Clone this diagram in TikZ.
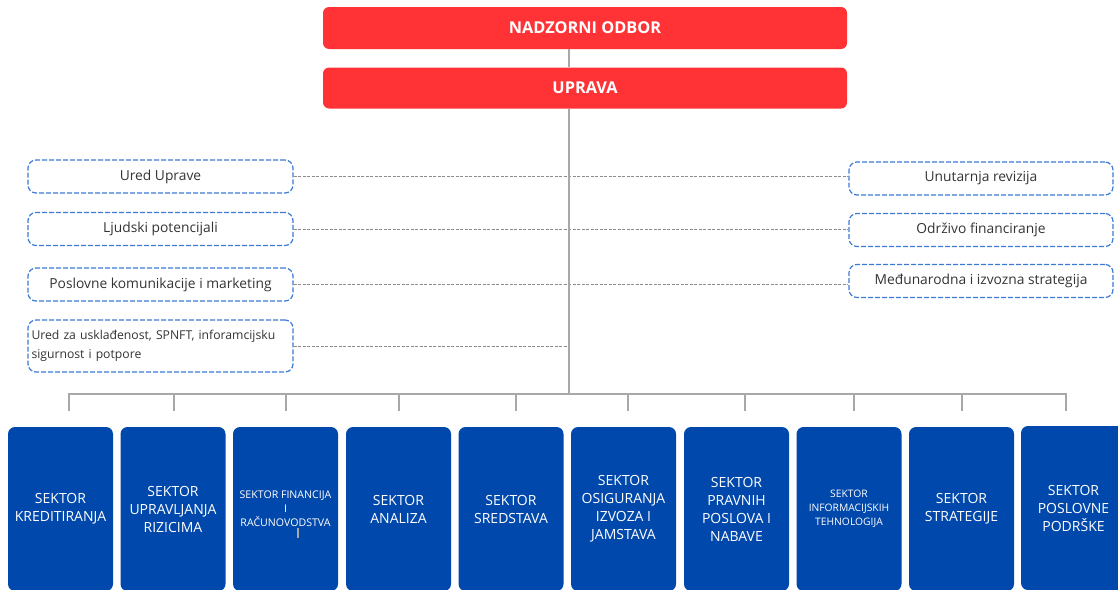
\documentclass[tikz,border=0pt]{standalone}
\usepackage{fontspec}
\setmainfont{Open Sans}
\definecolor{myred}{HTML}{FF3336}
\definecolor{myblue}{HTML}{0048AB}
\definecolor{dashblue}{HTML}{3C7BD4}
\definecolor{linegray}{HTML}{A8A8A8}
\definecolor{dotgray}{HTML}{8C8C8C}
\definecolor{txtgray}{HTML}{333333}
\begin{document}
\begin{tikzpicture}[x=1pt,y=-1pt,
  redbox/.style={fill=myred,rounded corners=6pt,minimum width=524pt,inner sep=0pt,
    text=white,font=\fontsize{16.3}{18}\selectfont\bfseries},
  unitbox/.style={draw=dashblue,dash pattern=on 5pt off 2pt,line width=1.2pt,rounded corners=8pt,
    minimum height=33pt,inner sep=0pt,text=txtgray,font=\fontsize{13.8}{19}\selectfont},
  sectbox/.style={fill=myblue,rounded corners=7pt,minimum width=105pt,minimum height=164pt,
    inner sep=0pt,text=white,align=center,font=\fontsize{14}{18}\selectfont},
  smalltxt/.style={font=\fontsize{10.6}{14}\selectfont},
  spine/.style={draw=linegray,line width=1.5pt},
  dotline/.style={draw=dotgray,line width=0.9pt,dash pattern=on 3pt off 1.5pt}
]
\useasboundingbox (0,0) rectangle (1118,589);
\clip (0,0) rectangle (1118,589);

% top boxes
\node[redbox,minimum height=42pt] (nad) at (585,28) {NADZORNI ODBOR};
\node[redbox,minimum height=41pt] (upr) at (585,88) {UPRAVA};

% spine coordinates
\coordinate (sp) at (569,0);
\coordinate (bus) at (569,394);

% left unit boxes
\node[unitbox,minimum width=265pt] (l1) at (160.5,176.5) {Ured Uprave};
\node[unitbox,minimum width=265pt] (l2) at (160.5,229) {Ljudski potencijali};
\node[unitbox,minimum width=265pt] (l3) at (160.5,284.5) {Poslovne komunikacije i marketing};
\node[unitbox,minimum width=265pt,minimum height=52pt,text width=258pt,align=left,
  font=\fontsize{12.2}{19}\selectfont] (l4) at (160.5,346)
  {Ured za usklađenost, SPNFT, inforamcijsku\\sigurnost i potpore};

% right unit boxes
\node[unitbox,minimum width=264pt] (r1) at (981,178.5) {Unutarnja revizija};
\node[unitbox,minimum width=264pt] (r2) at (981,230) {Održivo financiranje};
\node[unitbox,minimum width=264pt] (r3) at (981,281) {Međunarodna i izvozna strategija};

% dotted connectors
\draw[dotline] (l1.east) -- (l1.east -| r1.west);
\draw[dotline] (l2.east) -- (l2.east -| r2.west);
\draw[dotline] (l3.east) -- (l3.east -| r3.west);
\draw[dotline] (l4.east) -- (l4.east -| sp);

% spine
\draw[spine] (nad.south -| sp) -- (upr.north -| sp);
\draw[spine] (upr.south -| sp) -- (bus);

% sector boxes
\node[sectbox] (s1) at (60.5,509) {SEKTOR\\KREDITIRANJA};
\node[sectbox] (s2) at (173,509) {SEKTOR\\UPRAVLJANJA\\RIZICIMA};
\node[sectbox,smalltxt] (s3) at (285.5,509) {SEKTOR FINANCIJA\\I\\RAČUNOVODSTVA};
\node[sectbox] (s4) at (398.5,509) {SEKTOR\\ANALIZA};
\node[sectbox] (s5) at (511,509) {SEKTOR\\SREDSTAVA};
\node[sectbox] (s6) at (623.5,509) {SEKTOR\\OSIGURANJA\\IZVOZA I\\JAMSTAVA};
\node[sectbox] (s7) at (736.5,509) {SEKTOR\\PRAVNIH\\POSLOVA I\\NABAVE};
\node[sectbox,font=\fontsize{10.3}{14}\selectfont] (s8) at (849,509) {SEKTOR\\INFORMACIJSKIH\\TEHNOLOGIJA};
\node[sectbox] (s9) at (961.5,509) {SEKTOR\\STRATEGIJE};
\node[sectbox] (s10) at (1073.5,508) {SEKTOR\\POSLOVNE\\PODRŠKE};

% small mark in s3
\draw[linegray,line width=1.2pt] (298,528) -- (298,538);

% bus and ticks
\coordinate (t1) at (69,411);
\coordinate (t2) at (174,411);
\coordinate (t3) at (286,411);
\coordinate (t4) at (399,411);
\coordinate (t5) at (516,411);
\coordinate (t6) at (628,411);
\coordinate (t7) at (745,411);
\coordinate (t8) at (854,411);
\coordinate (t9) at (962,411);
\coordinate (t10) at (1066,411);
\draw[spine] (t1) -- (t1 |- bus) -- (t10 |- bus) -- (t10);
\foreach \i in {2,...,9} {\draw[spine] (t\i |- bus) -- (t\i);}
\end{tikzpicture}
\end{document}
